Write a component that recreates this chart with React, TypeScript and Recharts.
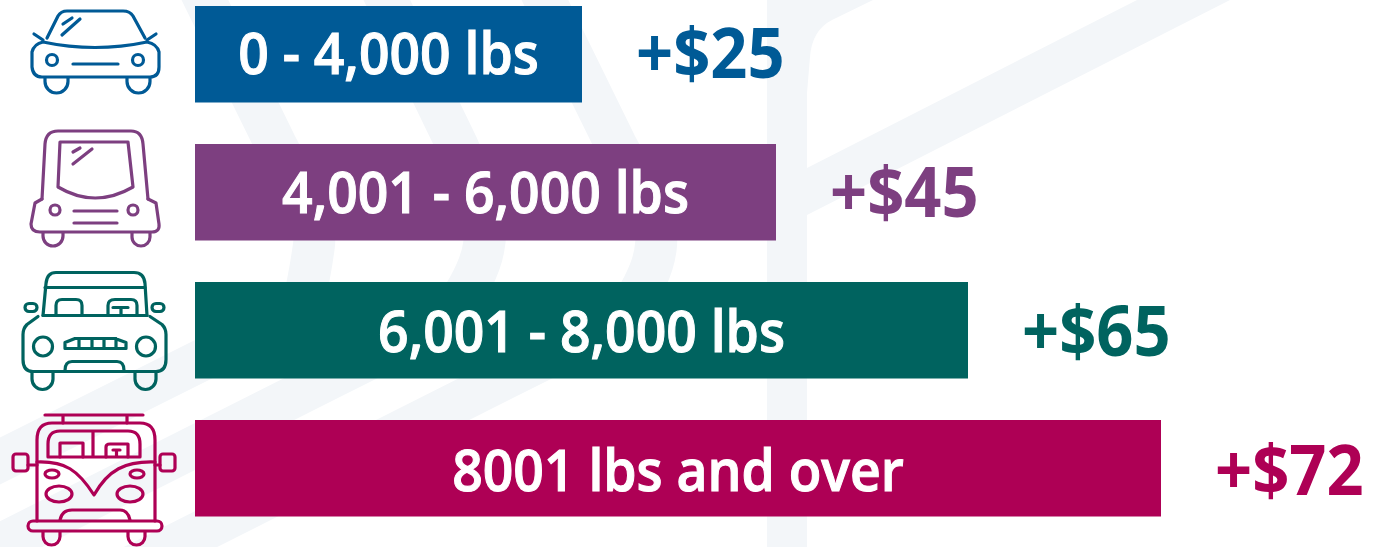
import React from "react";
import { BarChart, Bar, XAxis, YAxis, Cell, LabelList } from "recharts";

const tiers = ["0 - 4,000 lbs", "4,001 - 6,000 lbs", "6,001 - 8,000 lbs", "8001 lbs and over"];
const barLengths = [387, 581, 773, 966];
const fees = ["+$25", "+$45", "+$65", "+$72"];
const colors = ["#005a96", "#7d3f80", "#00635f", "#ae0055"];
const iconAnchors = [54, 193, 330.5, 468];
const feeNudges = [0, 1, 2, 3];

const rows = tiers.map((tier, i) => ({ tier, length: barLengths[i], fee: fees[i] }));

const Wheel = ({ x, y, w, h }: { x: number; y: number; w: number; h: number }) => (
  <path d={`M${x},${y} v${h - w / 2} a${w / 2},${w / 2} 0 0 0 ${w},0 v${-(h - w / 2)}`} />
);

const CarIcon = () => (
  <>
    <path d="M47,38 L58,16 Q61,11 67,11 H123 Q130,11 133,16 L145,38" />
    <path d="M43,42 Q34,44 32,52 V67 Q33,77 42,77 H150 Q159,77 159,67 V52 Q157,44 147,42 Q95,53 43,42 Z" />
    <path d="M34,34 L43,40 M156,34 L147,40" />
    <circle cx={52} cy={60} r={5.5} />
    <circle cx={138} cy={60} r={5.5} />
    <path d="M73,64 H118" />
    <Wheel x={45} y={78} w={23} h={15} />
    <Wheel x={127} y={78} w={23} h={15} />
    <path d="M63,24 L72,18 M62,35 L80,19" />
  </>
);

const VanIcon = () => (
  <>
    <path d="M42,200 L45,145 Q46,132 58,132 H131 Q142,132 143,145 L148,200" />
    <path d="M42,200 L35,204 L31,225 Q31,233 40,233 H152 Q160,233 159,225 L156,204 L148,200" />
    <path d="M60,143 H128 L133,188 Q95,210 58,188 Z" />
    <circle cx={55} cy={211} r={5} />
    <circle cx={133} cy={211} r={5} />
    <path d="M74,212 H117 M74,224 H117" />
    <Wheel x={43} y={234} w={20} h={13} />
    <Wheel x={132} y={234} w={18} h={13} />
    <path d="M73,153 L80,149 M73,165 L92,150" />
  </>
);

const JeepIcon = () => (
  <>
    <path d="M43,316 L46,284 Q47,273 56,273 H134 Q144,273 145,284 L147,316" />
    <path d="M45,288 H145 M43,316 H147" />
    <path d="M56,316 V306 Q56,300 62,300 H76 Q82,300 82,306 V316" />
    <path d="M108,316 V306 Q108,300 115,300 H131 Q137,300 137,306 V316" />
    <path d="M113,308 H128 M121,308 V316" />
    <rect x={25} y={304} width={12} height={8} rx={4} />
    <rect x={152} y={304} width={12} height={8} rx={4} />
    <path d="M38,317 L27,325 Q23,329 23,335 V360 Q23,372 33,372 H156 Q166,372 166,360 V335 Q166,329 162,325 L150,317" />
    <circle cx={43} cy={347} r={9.5} />
    <circle cx={146} cy={347} r={9.5} />
    <path d="M65,343 L75,339 H115 L126,343 V349 H65 Z M79,339 V349 M92,339 V349 M104,339 V349 M116,339 V349" />
    <path d="M65,371 Q65,362 72,362 H117 Q124,362 124,371" />
    <Wheel x={32} y={373} w={21} h={17} />
    <Wheel x={135} y={373} w={21} h={17} />
  </>
);

const BusIcon = () => (
  <>
    <path d="M45,415 H143 M63,415 V423 M127,415 V423" />
    <path d="M37,521 V440 Q37,423 52,423 H140 Q155,423 155,440 V521" />
    <path d="M48,457 V444 Q48,431 60,431 H128 Q140,431 140,444 V457 Z M93,431 V457" />
    <path d="M60,457 V443 H83 V457 M106,457 V447 Q106,444 110,444 H128 V457" />
    <path d="M113,450 H120 M116.5,450 V456" />
    <path d="M37,462 C65,461 78,470 94,495 C108,470 125,461 155,462" />
    <rect x={13} y={454} width={15} height={17} rx={3} />
    <rect x={160} y={454} width={15} height={17} rx={3} />
    <path d="M28,465 H37 M155,465 H160" />
    <ellipse cx={52} cy={474} rx={7} ry={4} />
    <ellipse cx={137} cy={474} rx={7} ry={4} />
    <ellipse cx={59} cy={494} rx={13} ry={8} />
    <ellipse cx={130} cy={494} rx={13} ry={8} />
    <rect x={28} y={521} width={134} height={10} rx={5} />
    <path d="M60,520 Q62,510 72,510 H120 Q128,510 130,520" />
    <Wheel x={43} y={532} w={17} h={13} />
    <Wheel x={128} y={532} w={17} h={13} />
  </>
);

const icons = [CarIcon, VanIcon, JeepIcon, BusIcon];

const IconTick = (props: any) => {
  const { y, index } = props;
  const Icon = icons[index];
  return (
    <g
      transform={`translate(0,${y - iconAnchors[index]})`}
      fill="none"
      stroke={colors[index]}
      strokeWidth={3.2}
      strokeLinecap="round"
      strokeLinejoin="round"
    >
      <Icon />
    </g>
  );
};

const FONT = "'Open Sans', sans-serif";

const TierLabel = (props: any) => {
  const { x, y, width, height, value, index } = props;
  return (
    <text
      transform={`translate(${x + width / 2},${y + height / 2 + 19.5 + feeNudges[index]}) scale(1,1.07)`}
      textAnchor="middle"
      fill="#ffffff"
      stroke="#ffffff"
      strokeWidth={1}
      fontFamily={FONT}
      fontWeight={600}
      fontSize={53.5}
    >
      {value}
    </text>
  );
};

const FeeLabel = (props: any) => {
  const { x, y, width, height, value, index } = props;
  return (
    <text
      transform={`translate(${x + width + 54},${y + height / 2 + 24 + feeNudges[index]}) scale(1,1.08)`}
      textAnchor="start"
      fill={colors[index]}
      fontFamily={FONT}
      fontWeight={700}
      fontSize={65}
    >
      {value}
    </text>
  );
};

const Backdrop = () => (
  <svg width={1389} height={547} style={{ position: "absolute", left: 0, top: 0 }}>
    <g fill="none" stroke="#f3f6f9" strokeWidth={42}>
      <path d="M200,-10 L276,145 Q318,225 314,245 Q310,275 302,310 L162,380 L-40,481" />
      <path d="M382,-10 L457,145 Q490,220 484,245 Q480,275 447,320 L327,380 L-70,580" />
      <path d="M540,-10 L616,145 Q660,225 656,245 Q654,275 622,320 L502,380 L105,580" />
    </g>
    <path d="M767,0 H873 L832,20 Q812,30 810,57 L807,93 V547 H767 Z" fill="#f3f6f9" />
    <path d="M807,168 L1137,0 H1230 L807,215 Z" fill="#f3f6f9" />
  </svg>
);

export default function App() {
  return (
    <div
      style={{
        position: "absolute",
        left: 0,
        top: 0,
        width: 1389,
        height: 547,
        overflow: "hidden",
        background: "#ffffff",
        filter: "blur(0.6px)",
      }}
    >
      <Backdrop />
      <div style={{ position: "absolute", left: 0, top: 0 }}>
        <BarChart
          width={1389}
          height={547}
          data={rows}
          layout="vertical"
          margin={{ top: -15, right: 228, bottom: 10, left: 0 }}
          barSize={96.5}
        >
          <XAxis type="number" hide domain={[0, 966]} />
          <YAxis
            type="category"
            dataKey="tier"
            width={195}
            axisLine={false}
            tickLine={false}
            interval={0}
            tick={<IconTick />}
          />
          <Bar dataKey="length" isAnimationActive={false}>
            {rows.map((r, i) => (
              <Cell key={r.tier} fill={colors[i]} />
            ))}
            <LabelList dataKey="tier" content={<TierLabel />} />
            <LabelList dataKey="fee" content={<FeeLabel />} />
          </Bar>
        </BarChart>
      </div>
    </div>
  );
}
